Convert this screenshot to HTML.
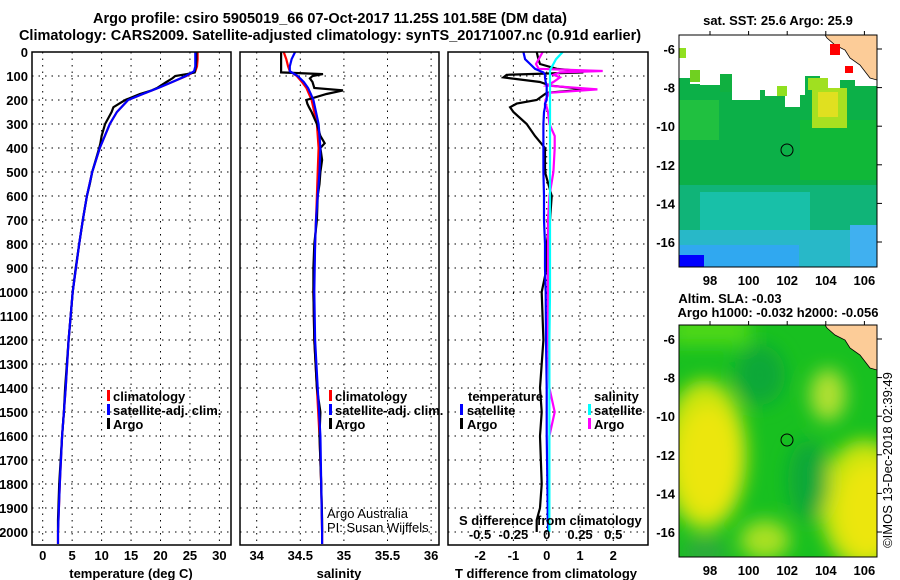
<!DOCTYPE html>
<html><head><meta charset="utf-8"><style>
body{margin:0;background:#fff}
svg{display:block;font-family:"Liberation Sans",sans-serif}
.t{font-weight:bold;font-size:13px}
.h{font-weight:bold;font-size:14.5px}
</style></head><body>
<svg id="s" width="900" height="580" viewBox="0 0 900 580">
<defs>
<filter id="bl" x="-50%" y="-50%" width="200%" height="200%"><feGaussianBlur stdDeviation="9"/></filter>
<clipPath id="c1"><rect x="679" y="35" width="198" height="232"/></clipPath>
<clipPath id="c2"><rect x="679" y="325" width="198" height="232"/></clipPath>
<clipPath id="p1"><rect x="32" y="52" width="199" height="493"/></clipPath>
<clipPath id="p2"><rect x="240" y="52" width="199" height="493"/></clipPath>
<clipPath id="p3"><rect x="448" y="52" width="200" height="493"/></clipPath>
</defs>
<text class="h" x="330" y="23" text-anchor="middle">Argo profile: csiro 5905019_66 07-Oct-2017 11.25S 101.58E (DM data)</text>
<text class="h" x="330" y="40" text-anchor="middle">Climatology: CARS2009. Satellite-adjusted climatology: synTS_20171007.nc (0.91d earlier)</text>
<g id="grid"></g>
<g id="lines"></g>
<g id="frames" fill="none" stroke="#000" stroke-width="1.5">
<rect x="32" y="52" width="199" height="493"/>
<rect x="240" y="52" width="199" height="493"/>
<rect x="448" y="52" width="200" height="493"/>
</g>
<g id="labels" class="t"></g>
<g class="t">
<rect x="107" y="390" width="3" height="11" fill="#f00"/><text x="113" y="401">climatology</text>
<rect x="107" y="404" width="3" height="11" fill="#00f"/><text x="113" y="415">satellite-adj. clim.</text>
<rect x="107" y="418" width="3" height="11" fill="#000"/><text x="113" y="429">Argo</text>
</g>
<g class="t">
<rect x="329" y="390" width="3" height="11" fill="#f00"/><text x="335" y="401">climatology</text>
<rect x="329" y="404" width="3" height="11" fill="#00f"/><text x="335" y="415">satellite-adj. clim.</text>
<rect x="329" y="418" width="3" height="11" fill="#000"/><text x="335" y="429">Argo</text>
</g>
<text x="327" y="518" font-size="13">Argo Australia</text>
<text x="327" y="532" font-size="13">PI: Susan Wijffels</text>
<g class="t">
<text x="468" y="401">temperature</text>
<rect x="460" y="404" width="3" height="11" fill="#00f"/><text x="467" y="415">satellite</text>
<rect x="460" y="418" width="3" height="11" fill="#000"/><text x="467" y="429">Argo</text>
<text x="594" y="401">salinity</text>
<rect x="588" y="404" width="3" height="11" fill="#0ff"/><text x="594" y="415">satellite</text>
<rect x="588" y="418" width="3" height="11" fill="#f0f"/><text x="594" y="429">Argo</text>
<text x="459" y="525">S difference from climatology</text>
</g>
<text class="t" x="131" y="578" text-anchor="middle">temperature (deg C)</text>
<text class="t" x="339" y="578" text-anchor="middle">salinity</text>
<text class="t" x="546" y="578" text-anchor="middle">T difference from climatology</text>

<text class="t" x="778" y="25" text-anchor="middle">sat. SST: 25.6 Argo: 25.9</text>
<g clip-path="url(#c1)">
<rect x="679" y="35" width="198" height="232" fill="#0cb048"/>
<rect x="679" y="100" width="40" height="40" fill="#20c040"/>
<rect x="800" y="120" width="77" height="60" fill="#10b838"/>
<rect x="679" y="185" width="198" height="60" fill="#10b478"/>
<rect x="700" y="192" width="110" height="50" fill="#18c0a8"/>
<rect x="679" y="230" width="175" height="37" fill="#28b8c8"/>
<rect x="679" y="245" width="120" height="22" fill="#30a8f0"/>
<rect x="850" y="225" width="27" height="42" fill="#40b0f0"/>
<rect x="679" y="255" width="25" height="12" fill="#0000ff"/>
<rect x="812" y="88" width="35" height="40" fill="#a8e020"/>
<rect x="818" y="92" width="20" height="25" fill="#e0e020"/>
<path d="M679,35 H877 V86 H855 V80 H840 V88 H820 V76 H805 V95 H800 V107 H785 V96 H765 V90 H760 V100 H732 V92 H730 V75 H720 V85 H700 V84 H690 V78 H679 Z" fill="#fff"/>
<rect x="679" y="48" width="7" height="10" fill="#90e020"/>
<rect x="690" y="70" width="10" height="12" fill="#70d020"/>
<rect x="720" y="74" width="12" height="18" fill="#10b040"/>
<rect x="808" y="78" width="20" height="12" fill="#a0e020"/>
<rect x="777" y="86" width="10" height="10" fill="#90e020"/>
<path d="M825,35 H877 V80 L870,78 L860,65 L850,58 L845,50 L835,45 L827,38 Z" fill="#fccc98" stroke="#000" stroke-width="0.8"/>
<rect x="830" y="44" width="10" height="11" fill="#f00"/><rect x="845" y="66" width="8" height="7" fill="#f00"/>
<circle cx="787" cy="150" r="6" fill="none" stroke="#000"/>
</g>
<rect x="679" y="35" width="198" height="232" fill="none" stroke="#000"/>
<text class="t" x="730" y="303" text-anchor="middle">Altim. SLA: -0.03</text>
<text class="t" x="778" y="317" text-anchor="middle">Argo h1000: -0.032 h2000: -0.056</text>
<g clip-path="url(#c2)">
<rect x="679" y="325" width="198" height="232" fill="#18c020"/>
<g filter="url(#bl)">
<rect x="670" y="315" width="80" height="30" fill="#50d818"/>
<ellipse cx="705" cy="455" rx="42" ry="75" fill="#c8e410"/>
<ellipse cx="708" cy="460" rx="30" ry="55" fill="#ece60a"/>
<ellipse cx="865" cy="505" rx="45" ry="65" fill="#c8e410"/>
<ellipse cx="868" cy="510" rx="30" ry="48" fill="#ece60a"/>
<ellipse cx="828" cy="395" rx="18" ry="26" fill="#b0e030"/>
<ellipse cx="765" cy="540" rx="25" ry="20" fill="#a8e020"/>
<ellipse cx="760" cy="375" rx="25" ry="30" fill="#10a838"/>
<ellipse cx="808" cy="480" rx="20" ry="40" fill="#10a838"/>
<ellipse cx="705" cy="552" rx="22" ry="12" fill="#30a840"/>
</g>
<path d="M825,325 H877 V370 L870,368 L860,355 L850,348 L845,340 L835,335 L827,328 Z" fill="#fccc98" stroke="#000" stroke-width="0.8"/>
<circle cx="787" cy="440" r="6" fill="none" stroke="#000"/>
</g>
<rect x="679" y="325" width="198" height="232" fill="none" stroke="#000"/>
<g id="maplabels" class="t"></g>
<text x="892" y="460" font-size="13" text-anchor="middle" transform="rotate(-90 892 460)">©IMOS 13-Dec-2018 02:39:49</text>
</svg>
<script>
const NS="http://www.w3.org/2000/svg";
const depthTicks=[0,100,200,300,400,500,600,700,800,900,1000,1100,1200,1300,1400,1500,1600,1700,1800,1900,2000];
const tTicks=[0,5,10,15,20,25,30];
const sTicks=[34,34.5,35,35.5,36];
const sTickLabels=["34","34.5","35","35.5","36"];
const dTicks=[-2,-1,0,1,2];
const sdTicks=[-0.5,-0.25,0,0.25,0.5];
const sdTickLabels=["-0.5","-0.25","0","0.25","0.5"];
const argoDepth=[0,30,60,85,92,100,110,125,150,160,175,200,215,230,250,300,350,380,400,450,500,550,600,700,800,900,1000,1200,1400,1500,1600,1800,1950,2000];
const argoT=[26.1,26.1,26.0,25.8,24.5,22.5,22.0,21.0,19.4,18.5,16.5,14.0,13.0,12.0,11.7,10.6,10.0,9.8,9.6,9.0,8.4,8.0,7.5,6.8,6.2,5.6,5.1,4.4,3.8,3.6,3.3,2.8,2.6,2.6];
const argoS=[34.28,34.28,34.28,34.28,34.76,34.64,34.61,34.64,34.66,34.99,34.80,34.57,34.58,34.60,34.63,34.69,34.73,34.78,34.73,34.75,34.73,34.72,34.70,34.69,34.66,34.65,34.65,34.66,34.69,34.73,34.72,34.74,34.75,34.75];
const climDepth=[0,30,60,80,100,125,150,175,200,250,300,400,500,600,700,800,1000,1200,1400,1600,1800,2000,2050];
const climT=[26.3,26.3,26.2,25.9,24.4,22.0,19.6,17.0,14.5,12.6,11.4,9.7,8.4,7.5,6.8,6.2,5.1,4.4,3.9,3.3,2.9,2.6,2.6];
const climS=[34.31,34.34,34.36,34.38,34.46,34.52,34.57,34.60,34.63,34.66,34.69,34.71,34.70,34.69,34.68,34.67,34.65,34.66,34.69,34.72,34.74,34.75,34.75];
const satT=[25.9,25.9,25.9,25.7,24.3,22.0,19.6,17.0,14.5,12.6,11.4,9.7,8.4,7.5,6.8,6.2,5.1,4.4,3.9,3.3,2.9,2.6,2.6];
const satS=[34.44,34.40,34.38,34.38,34.47,34.54,34.59,34.62,34.65,34.68,34.71,34.73,34.72,34.70,34.68,34.67,34.66,34.67,34.70,34.73,34.74,34.75,34.75];
const dDepth=[0,30,50,70,79,85,95,106,125,140,156,170,200,215,230,250,300,350,400,500,600,700,800,900,1000,1200,1400,1500,1600,1800,1900,1950,2000];
const dTargo=[-0.3,-0.25,-0.2,0.3,1.0,1.1,-1.2,-1.3,-0.2,0.1,1.2,0.0,-0.3,-0.9,-1.1,-1.0,-0.6,-0.35,-0.05,-0.05,0.15,0.1,0.0,0.0,-0.15,-0.1,-0.2,-0.15,-0.2,-0.15,-0.2,-0.3,-0.3];
const dTsat=[-0.7,-0.65,-0.5,-0.35,-0.2,-0.1,-0.05,-0.05,-0.03,0.0,0.0,0.0,0.0,-0.05,-0.05,-0.08,-0.1,-0.1,-0.1,-0.1,-0.08,-0.08,-0.05,-0.05,-0.03,-0.02,0.0,0.0,0.0,0.02,0.03,0.03,0.05];
const dSargo=[-0.03,-0.06,-0.08,-0.06,0.42,0.1,0.05,0.1,0.05,0.0,0.38,0.02,-0.01,-0.01,0.0,0.01,0.02,0.06,0.06,0.05,0.02,0.01,0.01,0.01,0.01,0.01,0.02,0.06,0.02,0.02,0.02,0.02,0.02];
const dSsat=[0.12,0.07,0.05,0.03,0.025,0.025,0.025,0.025,0.025,0.025,0.025,0.025,0.025,0.025,0.025,0.025,0.025,0.025,0.025,0.025,0.025,0.025,0.025,0.025,0.025,0.02,0.02,0.02,0.02,0.02,0.02,0.02,0.02];
const lonTicks=[98,100,102,104,106];
const latTicks=[-6,-8,-10,-12,-14,-16];
const yD=d=>52+d*0.24;
const xT=v=>42.7+v*5.89;
const xS=v=>256.7+(v-34)*87.2;
const xDT=v=>546.7+v*33.3;
const xDS=v=>546.7+v*133.3;
const lonX=v=>710+(v-98)*19.3;
const lat1Y=v=>49+(-6-v)*19.3;
const lat2Y=v=>339+(-6-v)*19.3;
function mk(tag,attrs,parent){const e=document.createElementNS(NS,tag);for(const k in attrs)e.setAttribute(k,attrs[k]);parent.appendChild(e);return e;}
const grid=document.getElementById('grid'),lines=document.getElementById('lines'),labels=document.getElementById('labels'),ml=document.getElementById('maplabels');
const panels=[[32,231],[240,439],[448,648]];
depthTicks.forEach(d=>{
  panels.forEach(p=>{const l=mk('line',{x1:p[0],x2:p[1],y1:yD(d),y2:yD(d),stroke:'#000','stroke-dasharray':'1.5 5'},grid);
    
    });
  const t=mk('text',{x:28,y:yD(d)+5,'text-anchor':'end'},labels);t.textContent=d;
  
  
});
function xgrid(vals,f,labs,y){vals.forEach((v,i)=>{const l=mk('line',{x1:f(v),x2:f(v),y1:52,y2:545,stroke:'#000','stroke-dasharray':'1.5 5'},grid);
  
  
  const t=mk('text',{x:f(v),y:y,'text-anchor':'middle'},labels);t.textContent=labs?labs[i]:v;
  
  });}
xgrid(tTicks,xT,null,560);xgrid(sTicks,xS,sTickLabels,560);xgrid(dTicks,xDT,null,560);
sdTicks.forEach((v,i)=>{const t=mk('text',{x:xDS(v),y:539,'text-anchor':'middle'},labels);t.textContent=sdTickLabels[i];
  
  });
function line(ds,vs,f,col,clip,name,w){const pts=ds.map((d,i)=>f(vs[i]).toFixed(1)+','+yD(d).toFixed(1)).join(' ');
  const p=mk('polyline',{points:pts,fill:'none',stroke:col,'stroke-width':w||2.2,'clip-path':'url(#'+clip+')'},lines);
  
  }
line(climDepth,climT,xT,'#f00','p1','temperature-climatology-line');
line(argoDepth,argoT,xT,'#000','p1','temperature-argo-line');
line(climDepth,satT,xT,'#00f','p1','temperature-satellite-line');
line(climDepth,climS,xS,'#f00','p2','salinity-climatology-line');
line(argoDepth,argoS,xS,'#000','p2','salinity-argo-line');
line(climDepth,satS,xS,'#00f','p2','salinity-satellite-line');
line(dDepth,dTargo,xDT,'#000','p3','t-diff-argo-line');
line(dDepth,dSargo,xDS,'#f0f','p3','s-diff-argo-line');
line(dDepth,dTsat,xDT,'#00f','p3','t-diff-satellite-line');
line(dDepth,dSsat,xDS,'#0ff','p3','s-diff-satellite-line');
[[280,267,35,lat1Y],[570,557,325,lat2Y]].forEach(m=>{
  lonTicks.forEach(v=>{const t=mk('text',{x:lonX(v),y:m[0]+5,'text-anchor':'middle'},ml);t.textContent=v;
    
    
    const k=mk('line',{x1:lonX(v),x2:lonX(v),y1:m[2]-4,y2:m[2],stroke:'#000'},ml);
    
    });
  latTicks.forEach(v=>{const t=mk('text',{x:675,y:m[3](v)+5,'text-anchor':'end'},ml);t.textContent=v;
    
    
    const k=mk('line',{x1:877,x2:882,y1:m[3](v),y2:m[3](v),stroke:'#000'},ml);
    
    });
});
</script>
</body></html>
